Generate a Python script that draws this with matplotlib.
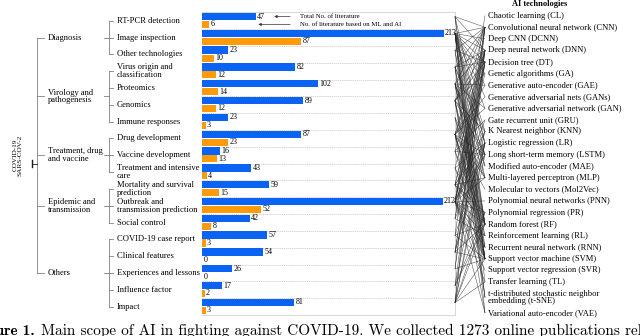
import numpy as np
import matplotlib.pyplot as plt
from matplotlib import transforms
from matplotlib.patches import ConnectionPatch

plt.rcParams['font.family'] = ['Liberation Serif', 'DejaVu Serif']

# data
categories = ['Diagnosis', 'Virology and\npathogenesis', 'Treatment, drug\nand vaccine',
              'Epidemic and\ntransmission', 'Others']
cat_sizes = [3, 4, 3, 3, 5]
subtopics = ['RT-PCR detection', 'Image inspection', 'Other technologies',
             'Virus origin and\nclassification', 'Proteomics', 'Genomics', 'Immune responses',
             'Drug development', 'Vaccine development', 'Treatment and intensive\ncare',
             'Mortality and survival\nprediction', 'Outbreak and\ntransmission prediction',
             'Social control', 'COVID-19 case report', 'Clinical features',
             'Experiences and lessons', 'Influence factor', 'Impact']
total_lit = [47, 213, 23, 82, 102, 89, 23, 87, 16, 43, 59, 212, 42, 57, 54, 26, 17, 81]
ml_ai_lit = [6, 87, 10, 12, 14, 12, 3, 23, 13, 4, 15, 52, 8, 3, 0, 0, 2, 3]

tech_abbr = ['CL', 'CNN', 'DCNN', 'DNN', 'DT', 'GA', 'GAE', 'GANs', 'GAN', 'GRU', 'KNN', 'LR',
             'LSTM', 'MAE', 'MLP', 'Mol2Vec', 'PNN', 'PR', 'RF', 'RL', 'RNN', 'SVM', 'SVR',
             'TL', 't-SNE', 'VAE']
tech_names = ['Chaotic learning (CL)', 'Convolutional neural network (CNN)', 'Deep CNN (DCNN)',
              'Deep neural network (DNN)', 'Decision tree (DT)', 'Genetic algorithms (GA)',
              'Generative auto-encoder (GAE)', 'Generative adversarial nets (GANs)',
              'Generative adversarial network (GAN)', 'Gate recurrent unit (GRU)',
              'K Nearest neighbor (KNN)', 'Logistic regression (LR)',
              'Long short-term memory (LSTM)', 'Modified auto-encoder (MAE)',
              'Multi-layered perceptron (MLP)', 'Molecular to vectors (Mol2Vec)',
              'Polynomial neural networks (PNN)', 'Polynomial regression (PR)',
              'Random forest (RF)', 'Reinforcement learning (RL)',
              'Recurrent neural network (RNN)', 'Support vector machine (SVM)',
              'Support vector regression (SVR)', 'Transfer learning (TL)',
              't-distributed stochastic neighbor\nembedding (t-SNE)',
              'Variational auto-encoder (VAE)']

# which AI technologies each topic links to (approximate)
links = {
    0: ['CNN', 'DNN', 'SVM', 'RF', 'LR'],
    1: ['CNN', 'DCNN', 'DNN', 'GA', 'GAN', 'GANs', 'GAE', 'TL', 'SVM', 'RF', 'DT', 'KNN',
        'LR', 'MLP', 'VAE', 't-SNE', 'LSTM', 'MAE', 'RNN'],
    2: ['CNN', 'SVM', 'RF', 'DT'],
    3: ['CNN', 'DNN', 'KNN', 'SVM', 'RF', 't-SNE', 'DT', 'LR'],
    4: ['CNN', 'DNN', 'GAE', 'MAE', 'GAN', 'LSTM', 'RF', 'SVM', 'MLP', 'RL'],
    5: ['CNN', 'DNN', 'GA', 'LSTM', 'RF', 'SVM', 'KNN', 'DT', 'RNN', 't-SNE'],
    6: ['RF', 'SVM', 'MLP'],
    7: ['DNN', 'GAE', 'GAN', 'GANs', 'VAE', 'Mol2Vec', 'RL', 'LSTM', 'RNN', 'CNN', 'RF',
        'SVM', 'MLP'],
    8: ['DNN', 'LSTM', 'RF', 'SVM', 'GRU'],
    9: ['DNN', 'RF', 'LR', 'SVM'],
    10: ['LR', 'RF', 'SVM', 'DT', 'KNN', 'MLP', 'DNN', 'PR'],
    11: ['LSTM', 'GRU', 'RNN', 'CL', 'PNN', 'PR', 'RL', 'SVR', 'DNN', 'MLP', 'CNN', 'RF',
         'DT', 'SVM', 'LR', 'VAE', 'TL', 'KNN', 'GA'],
    12: ['RL', 'LSTM', 'CNN', 'DT'],
    13: ['CNN', 'RF', 'LR', 'SVM'],
    14: ['RF', 'LR', 'SVM', 'DT', 'KNN', 'DNN'],
    15: ['CNN', 'DNN', 'SVM'],
    16: ['RF', 'LR', 'DT', 'PR'],
    17: ['LSTM', 'DNN', 'CNN', 'RF', 'SVM', 'LR', 'TL', 'PR'],
}

blue = '#0b63f3'
orange = '#ff9a0b'
W, H = 640, 336

fig = plt.figure(figsize=(W / 100, H / 100), dpi=100)

# bar panel
ax = fig.add_axes([202.3 / W, 1 - 315 / H, (455 - 202.3) / W, (315 - 12.3) / H])
n = len(subtopics)
rows = np.arange(n)
b1 = ax.barh(rows + 0.25, total_lit, height=0.44, color=blue, edgecolor='none')
b2 = ax.barh(rows + 0.72, ml_ai_lit, height=0.42, color=orange, edgecolor='none')
ax.bar_label(b1, padding=1, fontsize=5.8)
ax.bar_label(b2, padding=1, fontsize=5.8)
for r in range(1, n):
    ax.axhline(r, color='0.78', lw=0.5, ls=(0, (2, 1)), zorder=0)
ax.set_xlim(0, 223)
ax.set_ylim(n, 0)
ax.set_xticks([])
ax.set_yticks([])
for s in ['top', 'right', 'bottom']:
    ax.spines[s].set_color('0.82')
    ax.spines[s].set_linewidth(0.6)
ax.spines['left'].set_visible(False)

# legend arrows
ax.annotate('', xy=(total_lit[0] + 14, 0.25), xytext=(80, 0.25),
            arrowprops=dict(arrowstyle='-|>', lw=0.5, color='0.2', mutation_scale=4))
ax.text(86, 0.25, 'Total No. of literature', fontsize=4.9, va='center')
ax.annotate('', xy=(total_lit[0], 0.72), xytext=(80, 0.72),
            arrowprops=dict(arrowstyle='-|>', lw=0.5, color='0.2', mutation_scale=4))
ax.text(86, 0.72, 'No. of literature based on ML and AI', fontsize=4.9, va='center')

# tree on the left
tr = transforms.blended_transform_factory(fig.transFigure, ax.transData)
gray = '0.5'
x_root, x_b1, x_cat, x_b2, x_sub = 32 / W, 37 / W, 48 / W, 109 / W, 117 / W

for i, lab in enumerate(subtopics):
    ax.text(x_sub, i + 0.5, lab, transform=tr, fontsize=6.1, va='center', ha='left',
            linespacing=0.95)

cat_y = []
start = 0
for c, size in zip(categories, cat_sizes):
    ys = rows[start:start + size] + 0.5
    mid = (ys[0] + ys[-1]) / 2
    cat_y.append(mid)
    ax.plot([x_b2, x_b2], [ys[0], ys[-1]], transform=tr, color=gray, lw=0.6, clip_on=False)
    for yv in ys:
        ax.plot([x_b2, x_b2 + 4 / W], [yv, yv], transform=tr, color=gray, lw=0.6, clip_on=False)
    ax.plot([x_b2 - 5 / W, x_b2], [mid, mid], transform=tr, color=gray, lw=0.6, clip_on=False)
    ax.text(x_cat, mid, c, transform=tr, fontsize=6.1, va='center', ha='left', linespacing=0.95)
    start += size

ax.plot([x_b1, x_b1], [cat_y[0], cat_y[-1]], transform=tr, color=gray, lw=0.6, clip_on=False)
for yv in cat_y:
    ax.plot([x_b1, x_b1 + 7 / W], [yv, yv], transform=tr, color=gray, lw=0.6, clip_on=False)
root_y = (cat_y[0] + cat_y[-1]) / 2
ax.plot([x_root, x_b1], [root_y + 0.5, root_y + 0.5], transform=tr, color='0.1', lw=0.6,
        clip_on=False)
ax.plot([x_root, x_root], [root_y + 0.3, root_y + 0.7], transform=tr, color='0.1', lw=1.0,
        clip_on=False)
ax.text(18 / W, root_y, 'COVID-19\nSARS-COV-2', transform=tr, rotation=90, fontsize=5.2,
        ha='center', va='center', linespacing=1.0)

# AI technologies panel
steps = [1.0] * len(tech_names)
tech_h = [1.66 if '\n' in t else 1.0 for t in tech_names]
tech_y = [0.0]
for k in range(1, len(tech_names)):
    tech_y.append(tech_y[-1] + (tech_h[k - 1] + tech_h[k]) / 2)
tax = fig.add_axes([485 / W, 1 - 318.6 / H, (W - 485) / W, (318.6 - 9.9) / H])
tax.set_xlim(0, 1)
tax.set_ylim(tech_y[-1] + 0.5, -0.5)
tax.axis('off')
for yv, name in zip(tech_y, tech_names):
    tax.text(0.02, yv, name, fontsize=6.1, va='center', ha='left', linespacing=0.95)
fig.text(540 / W, 1 - 4.5 / H, 'AI technologies', fontsize=6.0, fontweight='bold',
         ha='center', va='center')

left_tr = transforms.blended_transform_factory(ax.transAxes, ax.transData)
for i, techs in links.items():
    for t in techs:
        j = tech_abbr.index(t)
        con = ConnectionPatch(xyA=(1.0, i + 0.26), coordsA=left_tr,
                              xyB=(0.0, tech_y[j]), coordsB=tax.transData,
                              color='0.15', lw=0.35, alpha=0.85)
        fig.add_artist(con)

# caption (cut by the frame)
fig.text(35 / W, 1.5 / H, 'Figure 1.', family='cmb10', fontsize=11, ha='right', va='baseline')
fig.text(41 / W, 1.5 / H, 'Main scope of AI in fighting against COVID-19. We collected 1273 '
         'online publications related to', family='cmr10', fontsize=11, ha='left',
         va='baseline')

fig.savefig('out.png', dpi=100)
